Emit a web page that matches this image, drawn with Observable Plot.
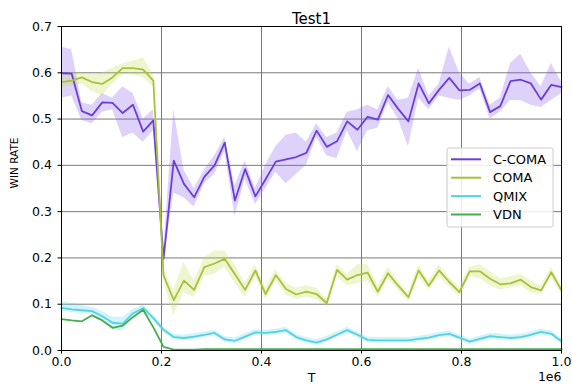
<!DOCTYPE html>
<html><head><meta charset="utf-8">
<script src="https://cdn.jsdelivr.net/npm/d3@7"></script>
<script src="https://cdn.jsdelivr.net/npm/@observablehq/plot@0.6"></script>
<style>
body{margin:0;background:#fff;}
#chart svg{display:block;}
</style>
</head><body><div id="chart"></div>
<script>
// training steps (thousands)
const T_k = [0, 20.4, 40.8, 61.2, 81.6, 102.0, 122.4, 142.9, 163.3, 183.7,
  204.1, 224.5, 244.9, 265.3, 285.7, 306.1, 326.5, 346.9, 367.3, 387.8,
  408.2, 428.6, 449.0, 469.4, 489.8, 510.2, 530.6, 551.0, 571.4, 591.8,
  612.2, 632.7, 653.1, 673.5, 693.9, 714.3, 734.7, 755.1, 775.5, 795.9,
  816.3, 836.7, 857.1, 877.6, 898.0, 918.4, 938.8, 959.2, 979.6, 1000];

const seriesNames = ["C-COMA", "COMA", "QMIX", "VDN"];
const seriesColors = ["#6a3fd8", "#a6c23a", "#55d2e2", "#45ad4f"];
const bandColors = ["#8a5cf0", "#c4dc50", "#55d8ea", "#45ad4f"];
const xTicks = [0, 0.2, 0.4, 0.6, 0.8, 1.0];
const yTicks = [0, 0.1, 0.2, 0.3, 0.4, 0.5, 0.6, 0.7];

const cComa = [0.599, 0.598, 0.517, 0.508, 0.536, 0.535, 0.513, 0.531, 0.473, 0.497,
  0.198, 0.41, 0.36, 0.331, 0.375, 0.40, 0.449, 0.324, 0.392, 0.333,
  0.37, 0.408, 0.413, 0.418, 0.427, 0.475, 0.44, 0.452, 0.495, 0.477,
  0.505, 0.499, 0.552, 0.522, 0.495, 0.577, 0.534, 0.563, 0.589, 0.562,
  0.563, 0.577, 0.515, 0.528, 0.582, 0.585, 0.577, 0.542, 0.574, 0.569];
const cComaLo = [0.545, 0.55, 0.497, 0.49, 0.515, 0.52, 0.46, 0.47, 0.45, 0.475,
  0.19, 0.34, 0.33, 0.31, 0.36, 0.38, 0.43, 0.29, 0.37, 0.315,
  0.35, 0.385, 0.36, 0.38, 0.40, 0.46, 0.42, 0.415, 0.475, 0.43,
  0.475, 0.48, 0.535, 0.50, 0.44, 0.545, 0.52, 0.55, 0.545, 0.54,
  0.55, 0.565, 0.50, 0.515, 0.54, 0.54, 0.53, 0.525, 0.54, 0.555];
const cComaHi = [0.655, 0.65, 0.535, 0.53, 0.555, 0.545, 0.57, 0.555, 0.50, 0.52,
  0.21, 0.52, 0.39, 0.35, 0.39, 0.42, 0.46, 0.355, 0.41, 0.35,
  0.40, 0.44, 0.465, 0.47, 0.45, 0.49, 0.46, 0.47, 0.515, 0.52,
  0.53, 0.52, 0.57, 0.54, 0.545, 0.61, 0.55, 0.575, 0.655, 0.60,
  0.575, 0.59, 0.53, 0.545, 0.62, 0.64, 0.60, 0.57, 0.62, 0.58];

const coma = [0.58, 0.583, 0.59, 0.58, 0.576, 0.59, 0.61, 0.61, 0.607, 0.583,
  0.162, 0.109, 0.151, 0.131, 0.18, 0.188, 0.198, 0.165, 0.131, 0.173,
  0.122, 0.163, 0.133, 0.121, 0.127, 0.122, 0.102, 0.174, 0.153, 0.163,
  0.168, 0.127, 0.167, 0.14, 0.115, 0.173, 0.14, 0.173, 0.148, 0.126,
  0.171, 0.171, 0.155, 0.143, 0.145, 0.153, 0.137, 0.13, 0.169, 0.13];
const comaLo = [0.57, 0.57, 0.575, 0.56, 0.55, 0.575, 0.595, 0.595, 0.59, 0.57,
  0.15, 0.075, 0.125, 0.115, 0.16, 0.165, 0.18, 0.145, 0.115, 0.16,
  0.11, 0.15, 0.12, 0.11, 0.115, 0.11, 0.095, 0.16, 0.14, 0.145,
  0.15, 0.115, 0.155, 0.13, 0.105, 0.16, 0.13, 0.16, 0.138, 0.116,
  0.16, 0.155, 0.14, 0.13, 0.135, 0.14, 0.125, 0.12, 0.158, 0.12];
const comaHi = [0.595, 0.60, 0.60, 0.595, 0.60, 0.61, 0.62, 0.625, 0.633, 0.595,
  0.175, 0.13, 0.19, 0.15, 0.20, 0.215, 0.215, 0.185, 0.145, 0.185,
  0.135, 0.175, 0.145, 0.135, 0.14, 0.135, 0.11, 0.185, 0.165, 0.185,
  0.185, 0.14, 0.18, 0.15, 0.125, 0.185, 0.15, 0.185, 0.158, 0.136,
  0.18, 0.185, 0.17, 0.155, 0.16, 0.165, 0.15, 0.14, 0.18, 0.14];

const qmix = [0.092, 0.089, 0.087, 0.085, 0.074, 0.06, 0.058, 0.08, 0.092, 0.07,
  0.045, 0.029, 0.027, 0.03, 0.034, 0.038, 0.024, 0.021, 0.03, 0.039,
  0.038, 0.04, 0.044, 0.029, 0.022, 0.017, 0.024, 0.034, 0.044, 0.034,
  0.023, 0.022, 0.022, 0.022, 0.022, 0.025, 0.028, 0.033, 0.036, 0.028,
  0.019, 0.025, 0.031, 0.029, 0.027, 0.029, 0.034, 0.04, 0.036, 0.02];
const qmixLo = [0.084, 0.082, 0.08, 0.078, 0.064, 0.045, 0.042, 0.072, 0.086, 0.063,
  0.039, 0.023, 0.021, 0.024, 0.028, 0.032, 0.018, 0.015, 0.024, 0.033,
  0.032, 0.034, 0.038, 0.023, 0.016, 0.011, 0.018, 0.028, 0.038, 0.028,
  0.017, 0.016, 0.016, 0.016, 0.016, 0.019, 0.022, 0.027, 0.03, 0.022,
  0.013, 0.019, 0.025, 0.023, 0.021, 0.023, 0.028, 0.034, 0.03, 0.014];
const qmixHi = [0.105, 0.102, 0.097, 0.093, 0.084, 0.072, 0.072, 0.088, 0.099, 0.077,
  0.051, 0.035, 0.033, 0.036, 0.04, 0.044, 0.03, 0.027, 0.036, 0.045,
  0.044, 0.046, 0.05, 0.035, 0.028, 0.023, 0.03, 0.04, 0.05, 0.04,
  0.029, 0.028, 0.028, 0.028, 0.028, 0.031, 0.034, 0.039, 0.042, 0.034,
  0.025, 0.031, 0.037, 0.035, 0.033, 0.035, 0.04, 0.046, 0.042, 0.026];

const vdn = [0.068, 0.065, 0.063, 0.076, 0.065, 0.049, 0.054, 0.072, 0.088, 0.05,
  0.008, 0.002, 0.002, 0.002, 0.003, 0.003, 0.003, 0.003, 0.003, 0.003,
  0.003, 0.003, 0.003, 0.003, 0.003, 0.003, 0.003, 0.003, 0.003, 0.003,
  0.003, 0.003, 0.003, 0.003, 0.003, 0.003, 0.003, 0.003, 0.003, 0.003,
  0.003, 0.003, 0.003, 0.003, 0.003, 0.003, 0.003, 0.003, 0.003, 0.003];

function rows(name, mean, lo, hi) {
  return T_k.map((t, i) => ({name, t: t / 1000, v: mean[i], lo: lo ? lo[i] : mean[i], hi: hi ? hi[i] : mean[i]}));
}
const bands = [
  ...rows("C-COMA", cComa, cComaLo, cComaHi),
  ...rows("COMA", coma, comaLo, comaHi),
  ...rows("QMIX", qmix, qmixLo, qmixHi)
];
const lines = [
  ...rows("C-COMA", cComa),
  ...rows("COMA", coma),
  ...rows("QMIX", qmix),
  ...rows("VDN", vdn)
];

const font = "DejaVu Sans, sans-serif";
const fmt = d3.format(".1f");
const bandColor = d3.scaleOrdinal(seriesNames, bandColors);

const chart = Plot.plot({
  width: 572, height: 385,
  marginLeft: 61, marginRight: 11, marginTop: 26, marginBottom: 35,
  style: {fontFamily: font, fontSize: "12.5px", background: "#fff", color: "#000", overflow: "visible"},
  x: {domain: [0, 1]},
  y: {domain: [0, 0.7]},
  color: {domain: seriesNames, range: seriesColors},
  marks: [
    Plot.gridX(xTicks, {stroke: "#7a7a7a", strokeOpacity: 1, strokeWidth: 1}),
    Plot.gridY(yTicks, {stroke: "#7a7a7a", strokeOpacity: 1, strokeWidth: 1}),
    Plot.areaY(bands, {x: "t", y1: "lo", y2: "hi", z: "name", fill: d => bandColor(d.name), fillOpacity: 0.28, curve: "linear"}),
    Plot.lineY(lines, {x: "t", y: "v", z: "name", stroke: "name", strokeWidth: 1.8, curve: "linear"}),
    Plot.frame({stroke: "#000", strokeWidth: 1}),
    Plot.axisX(xTicks, {tickFormat: fmt, tickSize: 3.5, tickPadding: 3, label: null, fontSize: 12.5}),
    Plot.axisY(yTicks, {tickFormat: fmt, tickSize: 3.5, tickPadding: 6, label: null, fontSize: 12.5}),
    Plot.text(["Test1"], {frameAnchor: "top", dy: -13, fontSize: 15, textAnchor: "middle"}),
    Plot.text(["WIN RATE"], {frameAnchor: "left", dx: -47, rotate: -90, fontSize: 10.5}),
    Plot.text(["T"], {frameAnchor: "bottom", lineAnchor: "top", dy: 23, fontSize: 12.5}),
    Plot.text(["1e6"], {frameAnchor: "bottom-right", lineAnchor: "top", textAnchor: "end", dy: 22, fontSize: 12.5})
  ]
});
document.getElementById("chart").appendChild(chart);

// legend (matplotlib-style box inside the axes)
const svg = d3.select(chart);
const lg = svg.append("g")
  .attr("text-anchor", "start")
  .style("font-family", font).style("font-size", "13px");
lg.append("rect").attr("x", 447).attr("y", 148).attr("width", 106).attr("height", 79)
  .attr("rx", 2).style("fill", "#ffffff").style("fill-opacity", 0.85)
  .style("stroke", "#cccccc").style("stroke-width", 1);
seriesNames.forEach((n, i) => {
  const y = 159.3 + i * 18.4;
  lg.append("line").attr("x1", 451).attr("x2", 481).attr("y1", y).attr("y2", y)
    .style("stroke", seriesColors[i]).style("stroke-width", 2);
  lg.append("text").attr("x", 493).attr("y", y).attr("dy", "0.35em")
    .style("text-anchor", "start").style("fill", "#000").text(n);
});
</script>
</body></html>
